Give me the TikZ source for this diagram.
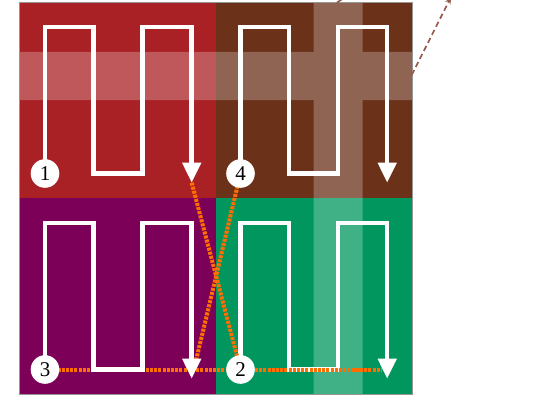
\documentclass[tikz,border=0pt]{standalone}
\usepackage{fontspec}
\setmainfont{Liberation Serif}
\usetikzlibrary{arrows.meta}
\definecolor{qred}{RGB}{170,33,37}
\definecolor{qbrown}{RGB}{107,49,25}
\definecolor{qpurple}{RGB}{124,0,88}
\definecolor{qgreen}{RGB}{0,150,94}
\definecolor{hopcol}{RGB}{255,110,0}
\definecolor{guidecol}{RGB}{150,92,78}
\definecolor{framecol}{RGB}{150,150,150}
\newcommand\snakepath[1]{\draw[snake] (s#1) -- ++(0,-146.5) -- ++(48.3,0) -- ++(0,146.5) -- ++(49.4,0) -- ++(0,-146.5) -- ++(49,0) -- (e#1);}
\begin{document}
\begin{tikzpicture}[x=1pt,y=-1pt,
  snake/.style={draw=white,line width=4.5pt,-{Triangle[width=18pt,length=20pt]}},
  hop/.style={draw=hopcol,line width=4pt,dash pattern=on 3pt off 1.2pt},
  numdot/.style={circle,fill=white,minimum size=28.6pt,inner sep=0pt,font=\fontsize{21}{21}\selectfont},
  guide/.style={draw=guidecol,line width=1.7pt,dash pattern=on 5.5pt off 3.5pt}]
\useasboundingbox (0,0) rectangle (538,396);
\clip (0,0) rectangle (538,396);
% quadrants
\fill[qred] (19.5,2) rectangle (216,198);
\fill[qbrown] (216,2) rectangle (412,198);
\fill[qpurple] (19.5,198) rectangle (216,394);
\fill[qgreen] (216,198) rectangle (412,394);
% translucent bands
\fill[white,fill opacity=0.25] (19.5,52) rectangle (412,100) (313.5,2) rectangle (362.5,394);
\draw[framecol,line width=0.9pt] (19.5,2) rectangle (412,394);
% coordinates
\foreach \lab/\dx/\dy in {1/0/0,4/195.5/0,3/0/196,2/195.5/196} {
  \coordinate (s\lab) at (45+\dx,173.5+\dy);
  \coordinate (e\lab) at (191.7+\dx,182.7+\dy);
}
\coordinate (h2) at (382.2,369.5);
\coordinate (g1) at (411.7,75);
\coordinate (g1end) at (451,-3);
\coordinate (g2) at (337,2.5);
\coordinate (g2end) at (347,-4);
% guides
\draw[guide,-{Stealth[length=7pt,width=6pt]}] (g1) -- (g1end);
\draw[guide] (g2) -- (g2end);
% scan paths
\snakepath{1}
\snakepath{4}
\snakepath{2}
\draw[hop] (e1) -- (s2);
\draw[hop,shorten >=16pt] (s4) -- (e3);
\draw[hop] (s3) -- (h2);
\snakepath{3}
% numbers
\node[numdot] (n1) at (s1) {1};
\node[numdot] (n2) at (s2) {2};
\node[numdot] (n3) at (s3) {3};
\node[numdot] (n4) at (s4) {4};
\end{tikzpicture}
\end{document}
